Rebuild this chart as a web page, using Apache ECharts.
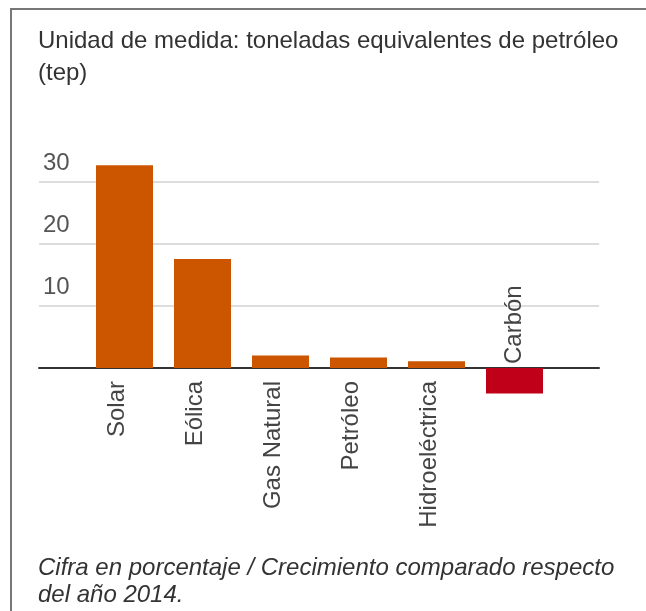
<!DOCTYPE html>
<html>
<head>
<meta charset="UTF-8">
<title></title>
<script src="https://cdn.jsdelivr.net/npm/echarts@6/dist/echarts.min.js"></script>
<style>
  html, body { margin: 0; padding: 0; background: #fff; }
  #frame { position: absolute; left: 10px; top: 8px; width: 700px; height: 700px;
           border-top: 2px solid #777; border-left: 2px solid #777; }
  #main { position: absolute; left: 0; top: 0; width: 646px; height: 611px; }
</style>
</head>
<body>
<div id="frame"></div>
<div id="main"></div>
<script>
// datos
var categorias = ['Solar', 'Eólica', 'Gas Natural', 'Petróleo', 'Hidroeléctrica', 'Carbón'];
var valores = [32.7, 17.6, 2.0, 1.7, 1.1, -4.1];
var ticksY = [10, 20, 30];

var fuente = 'Arial, "Liberation Sans", sans-serif';

// etiquetas giradas: debajo del eje si es positivo, encima si es negativo
var datos = valores.map(function (v) {
  var positivo = v >= 0;
  return {
    value: v,
    itemStyle: { color: positivo ? '#cc5500' : '#c00018' },
    label: positivo ? {
      position: 'bottom', distance: 13, align: 'right', offset: [0, -7]
    } : {
      position: 'top', distance: 4, align: 'left'
    }
  };
});

var chart = echarts.init(document.getElementById('main'), null, { renderer: 'canvas' });
chart.setOption({
  animation: false,
  textStyle: { fontFamily: fuente },
  title: [{
    text: 'Unidad de medida: toneladas equivalentes de petróleo\n(tep)',
    left: 33, top: 20,
    textStyle: { fontSize: 24, fontWeight: 'normal', color: '#333', lineHeight: 32, fontFamily: fuente }
  }, {
    text: 'Cifra en porcentaje / Crecimiento comparado respecto\ndel año 2014.',
    left: 33, top: 550,
    textStyle: { fontSize: 24, fontWeight: 'normal', fontStyle: 'italic', color: '#333', lineHeight: 27, fontFamily: fuente }
  }],
  grid: [
    { left: 39, right: 47, top: 120, bottom: 181 },
    { left: 85.5, right: 92.5, top: 120, bottom: 181 }
  ],
  xAxis: [{
    gridIndex: 0, type: 'value', min: 0, max: 1,
    axisLine: { show: true, onZero: true, lineStyle: { color: '#333', width: 2 } },
    axisTick: { show: false }, axisLabel: { show: false }, splitLine: { show: false }
  }, {
    gridIndex: 1, type: 'category', data: categorias, show: false
  }],
  yAxis: [{
    gridIndex: 0, type: 'value', min: -10, max: 40, interval: 10,
    axisLine: { show: false }, axisTick: { show: false },
    splitLine: { show: true, showMinLine: false, showMaxLine: false, lineStyle: { color: '#ddd', width: 2 } },
    axisLabel: {
      inside: true, margin: 4, align: 'left', verticalAlign: 'bottom',
      padding: [0, 0, 7, 0], fontSize: 24, color: '#555',
      formatter: function (v) { return ticksY.indexOf(v) >= 0 ? String(v) : ''; }
    }
  }, {
    gridIndex: 1, type: 'value', min: -10, max: 40, interval: 10, show: false
  }],
  series: [{
    type: 'bar', xAxisIndex: 1, yAxisIndex: 1,
    barWidth: 57,
    data: datos,
    label: {
      show: true, rotate: 90, verticalAlign: 'middle',
      fontSize: 24, color: '#444', fontFamily: fuente,
      formatter: function (p) { return categorias[p.dataIndex]; }
    }
  }]
});
</script>
</body>
</html>
